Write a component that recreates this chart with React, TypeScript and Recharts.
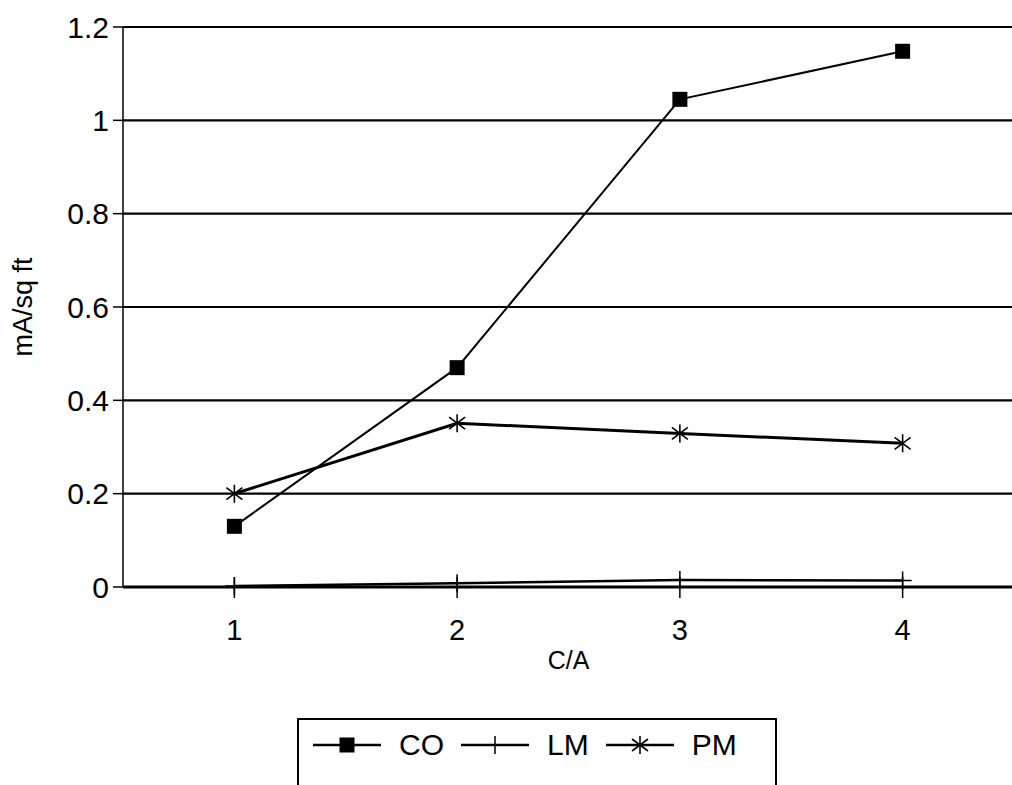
import React from "react";
import { CartesianGrid, Label, Line, LineChart, XAxis, YAxis } from "recharts";

const categories = ["1", "2", "3", "4"];
const coValues = [0.13, 0.47, 1.045, 1.148];
const lmValues = [0.002, 0.008, 0.015, 0.014];
const pmValues = [0.2, 0.351, 0.329, 0.308];
const yTicks = [0, 0.2, 0.4, 0.6, 0.8, 1, 1.2];

const seriesList = [
  { key: "CO", name: "CO", width: 2 },
  { key: "LM", name: "LM", width: 2.5 },
  { key: "PM", name: "PM", width: 3 },
];

const FONT = "'Liberation Sans', Arial, Helvetica, sans-serif";

function marker(kind: string, cx: number, cy: number, key?: string) {
  if (kind === "CO") {
    return <rect key={key} x={cx - 7.5} y={cy - 7.5} width={15} height={15} fill="#000" />;
  }
  if (kind === "LM") {
    return (
      <path key={key} d={`M${cx},${cy - 9}L${cx},${cy + 9}M${cx - 9},${cy}L${cx + 9},${cy}`} stroke="#000" strokeWidth={1.5} />
    );
  }
  return (
    <path
      key={key}
      d={`M${cx},${cy - 9}L${cx},${cy + 9}M${cx - 8},${cy - 6}L${cx + 8},${cy + 6}M${cx - 8},${cy + 6}L${cx + 8},${cy - 6}`}
      stroke="#000"
      strokeWidth={1.6}
      fill="none"
    />
  );
}

const dotFor = (kind: string) => (p: any) => marker(kind, p.cx, p.cy, `${kind}-${p.index}`);

function CaTick(props: any) {
  const { x, y, payload } = props;
  return (
    <g>
      <line x1={x} x2={x} y1={y - 10} y2={y + 11} stroke="#000" strokeWidth={1.5} />
      <text x={x} y={y + 53} textAnchor="middle" fontSize={29} fontFamily={FONT} fill="#000">
        {payload.value}
      </text>
    </g>
  );
}

export default function App() {
  const data = categories.map((c, i) => ({
    ca: c,
    CO: coValues[i],
    LM: lmValues[i],
    PM: pmValues[i],
  }));

  return (
    <div style={{ position: "fixed", left: 0, top: 0, width: 1012, height: 785, overflow: "hidden", background: "#fff", fontFamily: FONT }}>
      <style>{`html, body { margin: 0; overflow: hidden; }`}</style>
      <LineChart width={1030} height={785} data={data} margin={{ top: 27, right: 0, left: 0, bottom: 118 }}>
        <CartesianGrid vertical={false} stroke="#000" strokeWidth={2.2} />
        <XAxis
          dataKey="ca"
          scale="band"
          height={80}
          padding={{ left: 0, right: 16 }}
          tickLine={false}
          tickSize={0}
          tickMargin={0}
          axisLine={{ stroke: "#000", strokeWidth: 3 }}
          tick={<CaTick />}
        >
          <Label value="C/A" position="insideTop" offset={64} dx={-8} fontSize={25} fill="#000" fontFamily={FONT} />
        </XAxis>
        <YAxis
          width={123}
          domain={[0, 1.2]}
          ticks={yTicks}
          interval={0}
          tickSize={10}
          tickMargin={4}
          tickLine={{ stroke: "#000", strokeWidth: 1.5 }}
          axisLine={{ stroke: "#000", strokeWidth: 1.5 }}
          tick={{ fill: "#000", fontSize: 30, fontFamily: FONT }}
        >
          <Label value="mA/sq ft" angle={-90} position="insideLeft" offset={22} fontSize={27} fill="#000" fontFamily={FONT} style={{ textAnchor: "middle" }} />
        </YAxis>
        {seriesList.map((s) => (
          <Line
            key={s.key}
            dataKey={s.key}
            name={s.name}
            type="linear"
            stroke="#000"
            strokeWidth={s.width}
            dot={dotFor(s.key)}
            activeDot={false}
            isAnimationActive={false}
          />
        ))}
      </LineChart>
      <div
        style={{
          position: "absolute",
          left: 297,
          top: 718,
          width: 480,
          height: 90,
          boxSizing: "border-box",
          border: "2px solid #000",
          display: "flex",
          alignItems: "flex-start",
          paddingLeft: 14,
          paddingTop: 10,
        }}
      >
        {seriesList.map((s) => (
          <div key={s.key} style={{ display: "flex", alignItems: "center", marginRight: 17 }}>
            <svg width={68} height={30} style={{ marginRight: 18 }}>
              <line x1={0} x2={68} y1={15} y2={15} stroke="#000" strokeWidth={2.5} />
              {marker(s.key, 34, 15)}
            </svg>
            <span style={{ fontSize: 30, lineHeight: "30px", color: "#000" }}>{s.name}</span>
          </div>
        ))}
      </div>
    </div>
  );
}
